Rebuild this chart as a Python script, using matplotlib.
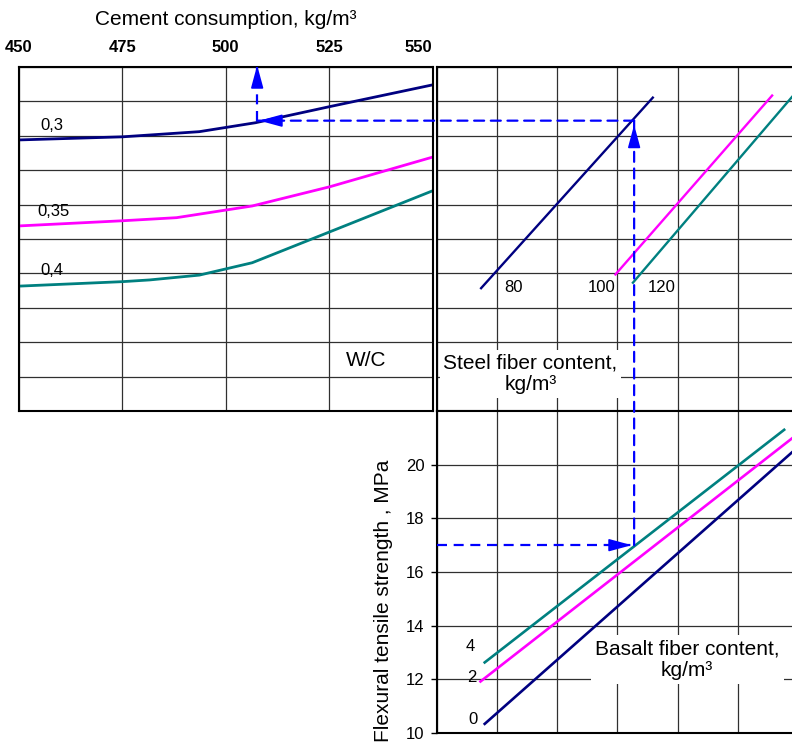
import matplotlib
matplotlib.use('Agg')
import matplotlib.pyplot as plt
from matplotlib.patches import ConnectionPatch

plt.rcParams['font.family'] = ['Liberation Sans', 'DejaVu Sans']

# ---------------- data ----------------
cement_ticks = [450, 475, 500, 525, 550]
wc_labels = ['0,3', '0,35', '0,4']
wc03_x = [450, 475, 493.6, 507.2, 525.2, 550]
wc03_y = [7.88, 7.97, 8.12, 8.38, 8.85, 9.48]
wc035_x = [450, 475, 488.1, 506.4, 525.2, 550]
wc035_y = [5.38, 5.53, 5.62, 5.96, 6.52, 7.38]
wc04_x = [450, 475, 481.6, 493.6, 506.4, 525.2, 550]
wc04_y = [3.63, 3.76, 3.81, 3.95, 4.31, 5.21, 6.40]

steel_labels = ['80', '100', '120']
steel80_x = [0.74, 3.59]
steel80_y = [3.57, 9.11]
steel100_x = [2.97, 5.57]
steel100_y = [3.97, 9.17]
steel120_x = [3.26, 5.90]
steel120_y = [3.73, 9.13]

basalt_labels = ['0', '2', '4']
bas0_x = [0.80, 5.90]
bas0_y = [10.34, 20.46]
bas2_x = [0.73, 5.90]
bas2_y = [11.92, 20.98]
bas4_x = [0.80, 5.77]
bas4_y = [12.63, 21.30]
strength_ticks = [10, 12, 14, 16, 18, 20]

# worked example (dashed guide)
ex_strength = 17.0
ex_u = 3.28
ex_aux = 8.44
ex_cement = 507.6

NAVY = '#000080'
MAG = '#FF00FF'
TEAL = '#008080'
BLUE = '#0000FF'
GRID = '#303030'
DASH = (0, (4.5, 3))

W, H = 792, 743
fig = plt.figure(figsize=(W / 100, H / 100), dpi=100)


def pos(l, t, r, b):
    return [l / W, 1 - b / H, (r - l) / W, (b - t) / H]


ax1 = fig.add_axes(pos(19, 67, 432.5, 411))
ax2 = fig.add_axes(pos(436.5, 67, 792, 411))
ax3 = fig.add_axes(pos(436.5, 411, 792, 733))

for ax in (ax1, ax2, ax3):
    for s in ax.spines.values():
        s.set_linewidth(1.5)
        s.set_color('black')
    ax.set_axisbelow(True)
    ax.grid(True, color=GRID, lw=0.9)

# ---- top-left: cement consumption vs W/C ----
ax1.set_xlim(450, 550)
ax1.set_ylim(0, 10)
ax1.xaxis.tick_top()
ax1.set_xticks(cement_ticks)
ax1.set_xticklabels([str(v) for v in cement_ticks], fontweight='bold')
ax1.tick_params(axis='x', length=0, pad=8.5, labelsize=12)
ax1.get_xticklabels()[-1].set_horizontalalignment('right')
ax1.set_yticks(range(11))
ax1.set_yticklabels([])
ax1.tick_params(axis='y', length=0)
ax1.xaxis.set_label_position('top')
ax1.set_xlabel('Cement consumption, kg/m³', fontsize=15, labelpad=11)

ax1.plot(wc03_x, wc03_y, color=NAVY, lw=2.0)
ax1.plot(wc035_x, wc035_y, color=MAG, lw=2.0)
ax1.plot(wc04_x, wc04_y, color=TEAL, lw=2.0)
ax1.text(457.9, 8.31, wc_labels[0], fontsize=12, ha='center', va='center')
ax1.text(458.4, 5.81, wc_labels[1], fontsize=12, ha='center', va='center')
ax1.text(457.9, 4.07, wc_labels[2], fontsize=12, ha='center', va='center')
ax1.text(533.9, 1.48, 'W/C', fontsize=15, ha='center', va='center')

# ---- top-right: steel fiber content ----
ax2.set_xlim(0, 5.9)
ax2.set_ylim(0, 10)
ax2.set_xticks(range(6))
ax2.set_yticks(range(11))
ax2.set_xticklabels([])
ax2.set_yticklabels([])
ax2.tick_params(length=0)
ax2.spines['right'].set_visible(False)
ax2.plot(steel80_x, steel80_y, color=NAVY, lw=1.7)
ax2.plot(steel100_x, steel100_y, color=MAG, lw=1.7)
ax2.plot(steel120_x, steel120_y, color=TEAL, lw=1.7)
ax2.text(1.28, 3.58, steel_labels[0], fontsize=12, ha='center', va='center')
ax2.text(2.74, 3.58, steel_labels[1], fontsize=12, ha='center', va='center')
ax2.text(3.73, 3.58, steel_labels[2], fontsize=12, ha='center', va='center')
ax2.text(1.56, 1.08, 'Steel fiber content,\nkg/m³', fontsize=15, ha='center',
         va='center', multialignment='center',
         bbox=dict(facecolor='white', edgecolor='none', pad=2.5), zorder=3)

# ---- bottom-right: flexural tensile strength ----
ax3.set_xlim(0, 5.9)
ax3.set_ylim(10, 22)
ax3.set_xticks(range(6))
ax3.set_xticklabels([])
ax3.tick_params(axis='x', length=0)
ax3.set_yticks(strength_ticks)
ax3.tick_params(axis='y', length=4.5, width=1.0, pad=4, labelsize=12)
ax3.spines['right'].set_visible(False)
ax3.plot(bas0_x, bas0_y, color=NAVY, lw=1.9)
ax3.plot(bas2_x, bas2_y, color=MAG, lw=1.9)
ax3.plot(bas4_x, bas4_y, color=TEAL, lw=1.9)
ax3.text(0.60, 10.52, basalt_labels[0], fontsize=12, ha='center', va='center')
ax3.text(0.58, 12.06, basalt_labels[1], fontsize=12, ha='center', va='center')
ax3.text(0.56, 13.21, basalt_labels[2], fontsize=12, ha='center', va='center')
ax3.text(4.16, 12.73, 'Basalt fiber content,\nkg/m³', fontsize=15, ha='center',
         va='center', multialignment='center',
         bbox=dict(facecolor='white', edgecolor='none', pad=3), zorder=3)
ax3.set_ylabel('Flexural tensile strength , MPa', fontsize=15, ha='center', va='center')
ax3.yaxis.set_label_coords(-0.148, 0.41)

# ---- dashed guide with arrows ----
ax3.plot([0, ex_u], [ex_strength, ex_strength], color=BLUE, lw=1.6, linestyle=DASH, zorder=4)
con1 = ConnectionPatch(xyA=(ex_u, ex_strength), coordsA=ax3.transData,
                       xyB=(ex_u, ex_aux), coordsB=ax2.transData,
                       color=BLUE, lw=1.6, linestyle=DASH, zorder=5)
fig.add_artist(con1)
con2 = ConnectionPatch(xyA=(ex_u, ex_aux), coordsA=ax2.transData,
                       xyB=(ex_cement, ex_aux), coordsB=ax1.transData,
                       color=BLUE, lw=1.6, linestyle=DASH, zorder=5)
fig.add_artist(con2)
ax1.plot([ex_cement, ex_cement], [ex_aux, 10], color=BLUE, lw=1.6, linestyle=DASH, zorder=4)

head = dict(arrowstyle='-|>,head_length=1.4,head_width=0.38', color=BLUE, lw=1.2,
            shrinkA=0, shrinkB=0)
ax3.annotate('', xy=(ex_u - 0.04, ex_strength), xytext=(ex_u - 0.38, ex_strength),
             arrowprops=head, zorder=6)
ax2.annotate('', xy=(ex_u, ex_aux - 0.12), xytext=(ex_u, ex_aux - 0.75),
             arrowprops=head, zorder=6)
ax1.annotate('', xy=(ex_cement + 0.5, ex_aux), xytext=(ex_cement + 4.6, ex_aux),
             arrowprops=head, zorder=6)
ax1.annotate('', xy=(ex_cement, 10.05), xytext=(ex_cement, 9.45),
             arrowprops=head, zorder=6, annotation_clip=False)

fig.savefig('out.png', dpi=100)
